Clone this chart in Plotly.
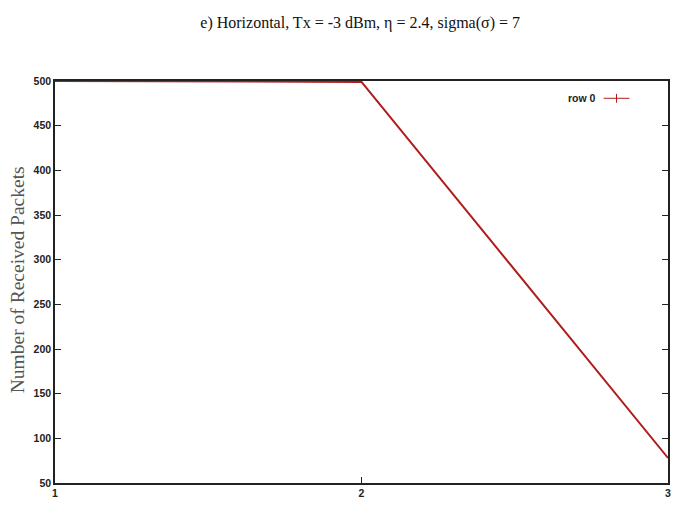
import plotly.graph_objects as go

# Received packet counts per position
positions = [1, 2, 3]
received = [500, 499, 78]
x_ticks = [1, 2, 3]
y_ticks = [50, 100, 150, 200, 250, 300, 350, 400, 450, 500]
series_name = "row 0"
y_title = "Number of Received Packets"
title_text = "e) Horizontal, Tx = -3 dBm, \u03b7 = 2.4, sigma(\u03c3) = 7"

line_color = "#b01c1c"
tick_font = dict(family="Liberation Sans, Arial", size=10.5, color="#222", weight="bold")

fig = go.Figure()
fig.add_trace(go.Scatter(
    x=positions, y=received, mode="lines", name=series_name,
    line=dict(color=line_color, width=2),
    showlegend=False, cliponaxis=False,
))

fig.update_layout(
    width=698, height=511,
    margin=dict(l=55, r=30, t=81, b=26),
    paper_bgcolor="white", plot_bgcolor="white",
    title=dict(text=title_text, x=0.516, xanchor="center", y=0.957, yanchor="middle",
               font=dict(family="Liberation Serif, Times New Roman", size=16, color="#111")),
    xaxis=dict(range=[1, 3], tickvals=x_ticks, ticktext=[str(v) for v in x_ticks],
               showgrid=False, zeroline=False, showline=True, linecolor="#222", linewidth=1.5,
               mirror=True, ticks="inside", ticklen=6, tickcolor="#222", tickwidth=1.2,
               tickfont=tick_font),
    yaxis=dict(range=[50, 500], tickvals=y_ticks, ticktext=[str(v) for v in y_ticks],
               showgrid=False, zeroline=False, showline=True, linecolor="#222", linewidth=1.5,
               mirror="ticks", ticks="inside", ticklen=6, tickcolor="#222", tickwidth=1.2,
               tickfont=tick_font),
)

# Vertical axis title
fig.add_annotation(xref="paper", yref="paper", x=-0.060, y=0.505, xanchor="center", yanchor="middle",
                   text=y_title, textangle=-90, showarrow=False,
                   font=dict(family="Liberation Serif, Times New Roman", size=19.5, color="#555"))

# Legend key: label on the left, line sample with a "+" marker on the right
fig.add_annotation(xref="paper", yref="paper", x=0.886, y=0.957, xanchor="right", yanchor="middle",
                   text=series_name, showarrow=False, font=tick_font)
fig.add_shape(type="line", xref="paper", yref="paper", x0=0.895, x1=0.937, y0=0.957, y1=0.957,
              line=dict(color=line_color, width=1))
fig.add_shape(type="line", xref="paper", yref="paper", x0=0.916, x1=0.916, y0=0.946, y1=0.968,
              line=dict(color=line_color, width=1))

fig.write_html("out.html")
